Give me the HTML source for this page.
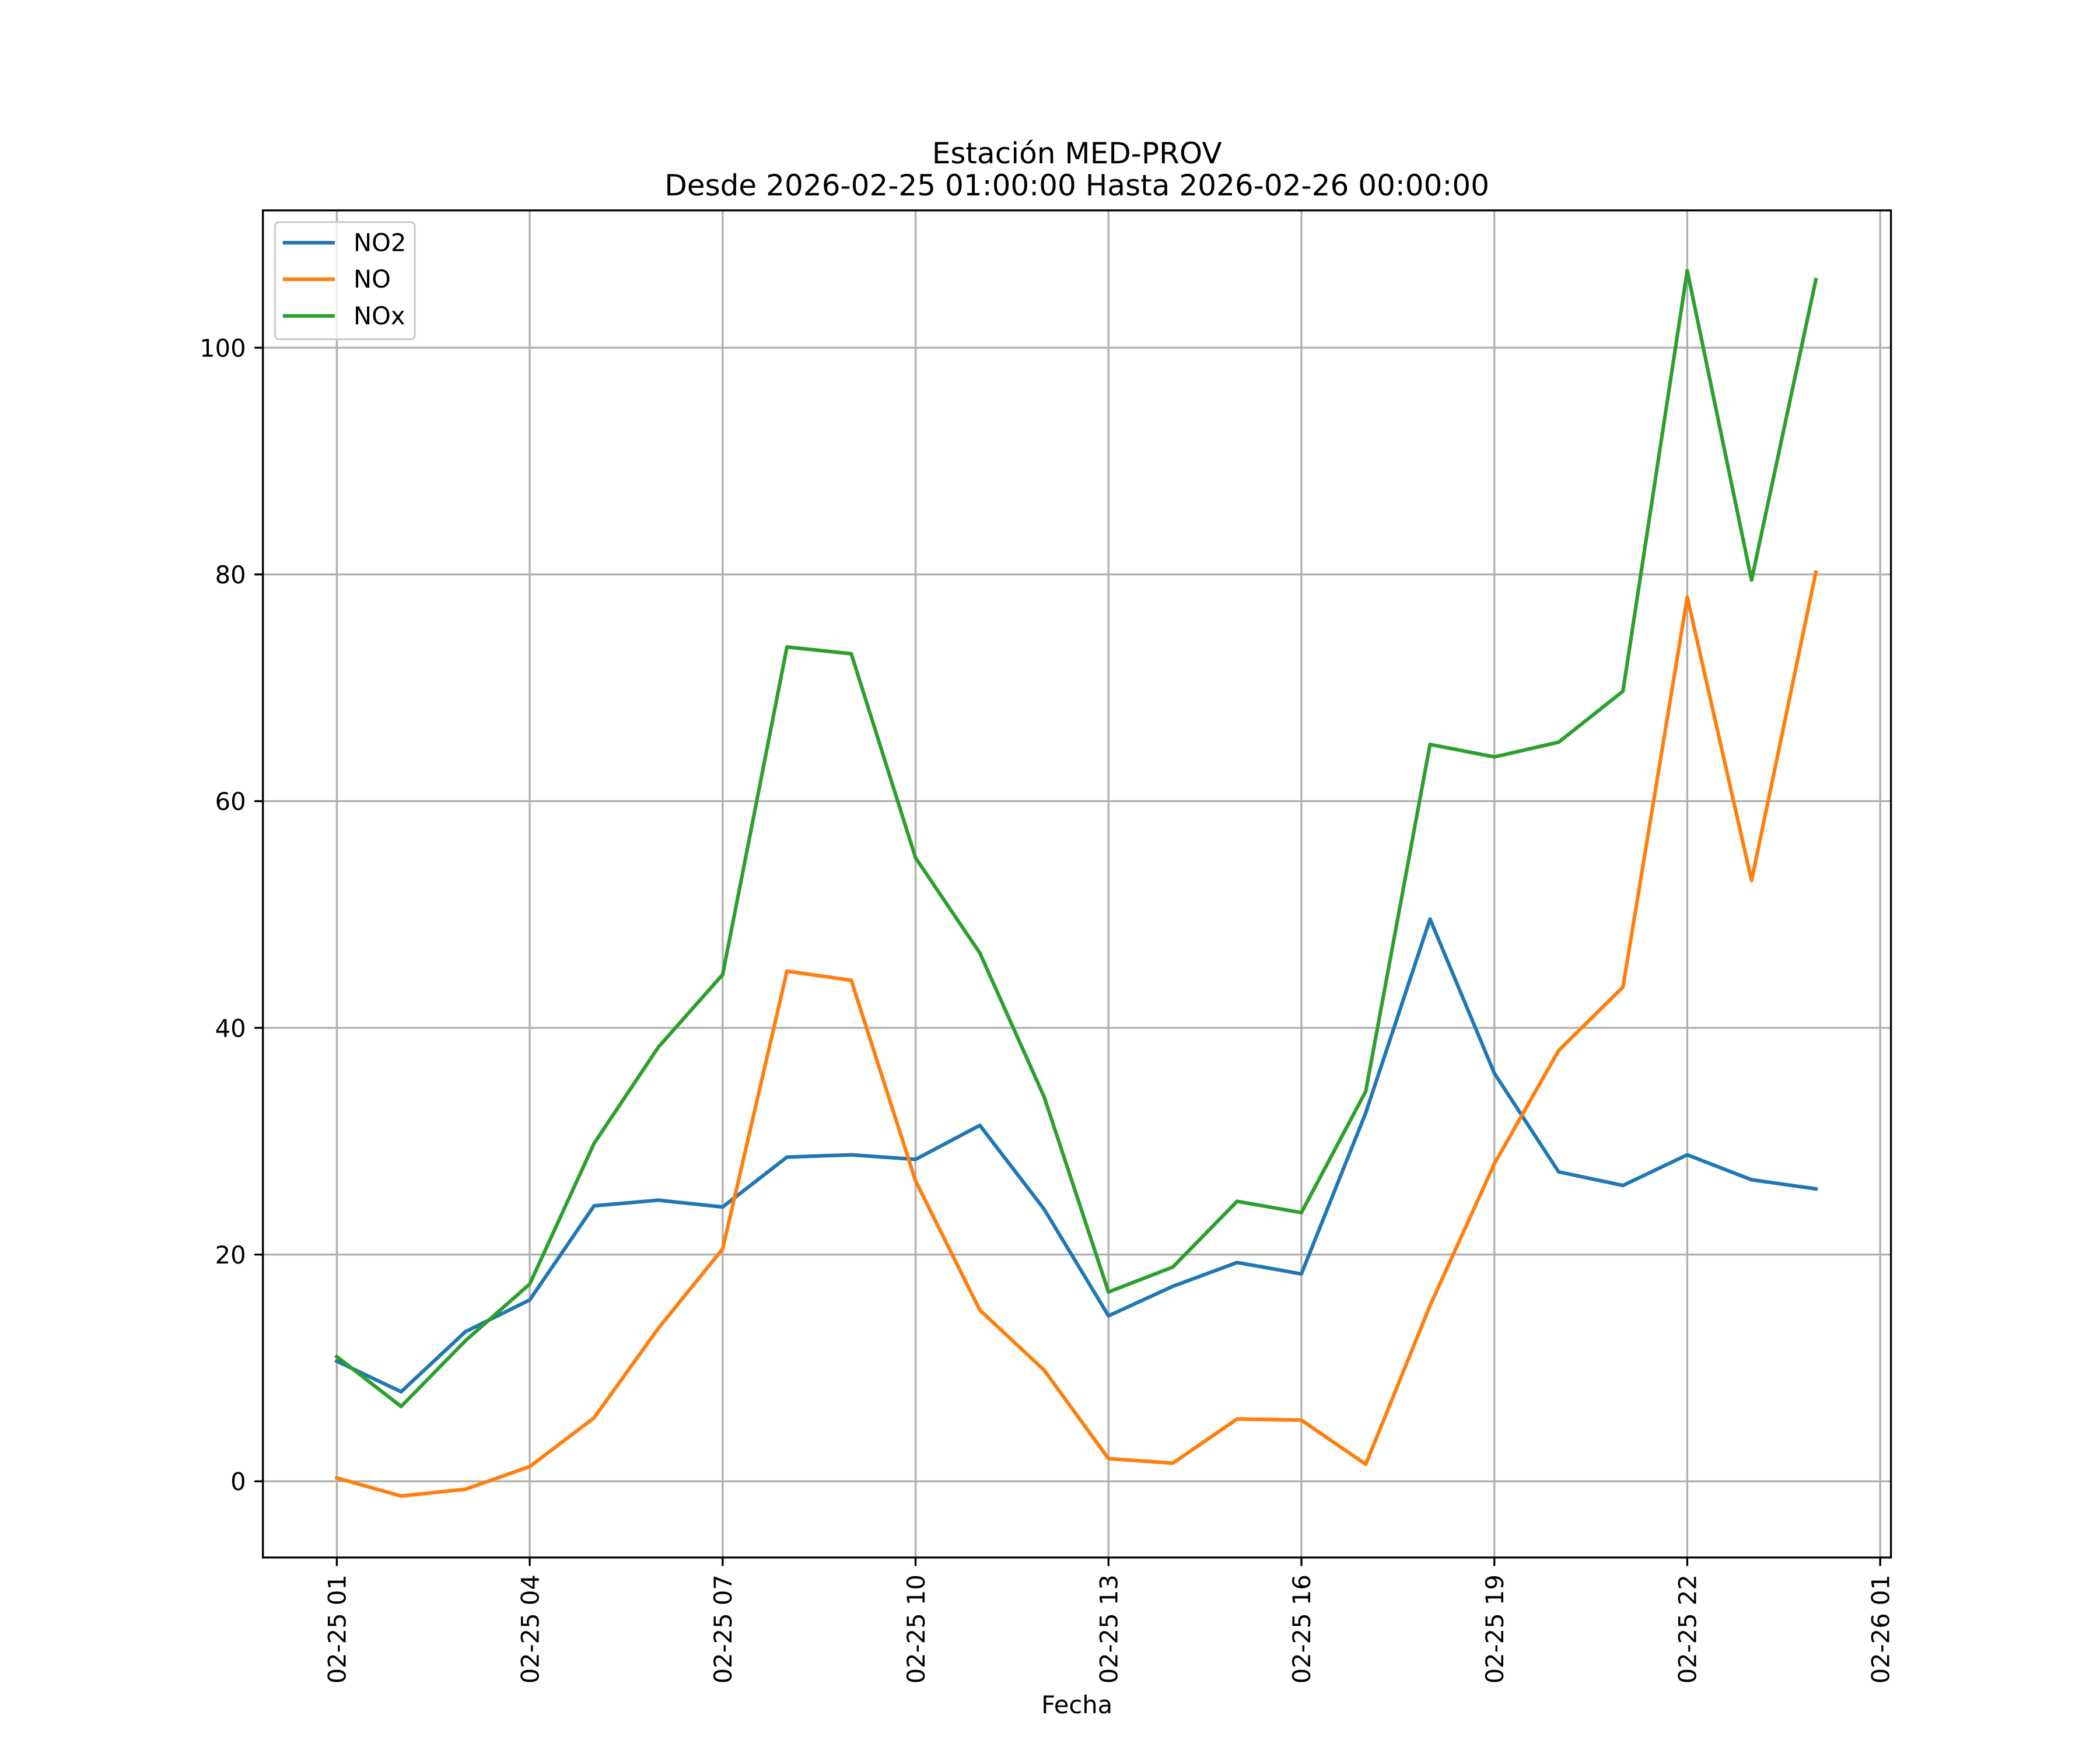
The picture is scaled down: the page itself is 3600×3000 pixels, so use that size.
<!DOCTYPE html>
<html><head><meta charset="utf-8"><style>html,body{margin:0;padding:0;background:#fff}svg{display:block}text{font-family:"DejaVu Sans","Liberation Sans",sans-serif}</style></head>
<body>
<svg id="chart" width="3600" height="3000" viewBox="0 0 1560 1300" xmlns="http://www.w3.org/2000/svg">
<rect width="1560" height="1300" fill="#fff"/>
<text x="800" y="121.3" font-size="21.7" text-anchor="middle">Estación MED-PROV</text>
<text x="800" y="145.2" font-size="21.7" text-anchor="middle">Desde 2026-02-25 01:00:00 Hasta 2026-02-26 00:00:00</text>
<g id="grid"></g><g id="series"></g><g id="axes"></g>
<text x="800" y="1272.7" font-size="18.05" text-anchor="middle">Fecha</text>
<g>
<rect x="204.3" y="165" width="103.8" height="87" rx="3" fill="#fff" fill-opacity="0.8" stroke="#cccccc" stroke-width="1.4"/>
<line x1="210.1" y1="180.3" x2="248.7" y2="180.3" stroke="#1f77b4" stroke-width="2.7"/><text x="262.6" y="186.5" font-size="18.05">NO2</text>
<line x1="210.1" y1="207.4" x2="248.7" y2="207.4" stroke="#ff7f0e" stroke-width="2.7"/><text x="262.6" y="213.6" font-size="18.05">NO</text>
<line x1="210.1" y1="234.7" x2="248.7" y2="234.7" stroke="#2ca02c" stroke-width="2.7"/><text x="262.6" y="240.9" font-size="18.05">NOx</text>
</g>
</svg>
<script>
const hours = [0,1,2,3,4,5,6,7,8,9,10,11,12,13,14,15,16,17,18,19,20,21,22,23];
const no2 = [10.6,7.9,13.2,16.0,24.3,24.8,24.2,28.6,28.8,28.4,31.4,24.0,14.6,17.2,19.3,18.3,32.5,49.6,36.0,27.3,26.1,28.8,26.6,25.8];
const no = [0.3,-1.3,-0.7,1.3,5.6,13.5,20.5,45.0,44.2,26.5,15.1,9.8,2.0,1.6,5.5,5.4,1.5,15.5,28.0,38.0,43.6,78.0,53.0,80.2];
const nox = [11.0,6.6,12.4,17.4,29.8,38.3,44.7,73.6,73.0,55.0,46.6,33.9,16.7,18.9,24.7,23.7,34.4,65.0,63.9,65.2,69.7,106.8,79.5,106.0];
const yTicks = [0,20,40,60,80,100];
const xTickHours = [0,3,6,9,12,15,18,21,24];
const xTickLabels = ["02-25 01","02-25 04","02-25 07","02-25 10","02-25 13","02-25 16","02-25 19","02-25 22","02-26 01"];
const L=195.3,R=1404.7,T=156.3,B=1157;
const x=h=>250.2+h*(1396.7-250.2)/24;
const y=v=>1100.4-v*(1100.4-258.3)/100;
const NS="http://www.w3.org/2000/svg";
function mk(tag,parent,attrs){const e=document.createElementNS(NS,tag);for(const k in attrs)e.setAttribute(k,attrs[k]);parent.appendChild(e);return e;}
const grid=document.getElementById('grid'),axes=document.getElementById('axes'),ser=document.getElementById('series');
yTicks.forEach(v=>{
 const g=mk('line',grid,{x1:L,x2:R,y1:y(v),y2:y(v),stroke:'#b0b0b0','stroke-width':1.44});
 
 
 mk('line',axes,{x1:L-6.3,x2:L,y1:y(v),y2:y(v),stroke:'#000','stroke-width':1.44});
 const t=mk('text',axes,{x:L-12.6,y:y(v)+6.6,'font-size':18.05,'text-anchor':'end'});t.textContent=v;
 
 
});
xTickHours.forEach((h,i)=>{
 const g=mk('line',grid,{x1:x(h),x2:x(h),y1:T,y2:B,stroke:'#b0b0b0','stroke-width':1.44});
 
 
 mk('line',axes,{x1:x(h),x2:x(h),y1:B,y2:B+6.3,stroke:'#000','stroke-width':1.44});
 const t=mk('text',axes,{x:0,y:0,'font-size':18.05,'text-anchor':'end',transform:`translate(${x(h)+6.6},${B+12.6}) rotate(-90)`});t.textContent=xTickLabels[i];
 
 
});
const fr=mk('rect',axes,{x:L,y:T,width:R-L,height:B-T,fill:'none',stroke:'#000','stroke-width':1.44});


[[no2,'#1f77b4','no2-line'],[no,'#ff7f0e','no-line'],[nox,'#2ca02c','nox-line']].forEach(([d,c,n])=>{
 const p=mk('polyline',ser,{points:d.map((v,i)=>x(hours[i])+','+y(v)).join(' '),fill:'none',stroke:c,'stroke-width':2.7,'stroke-linejoin':'round','stroke-linecap':'square'});
 
 
});
</script>
</body></html>
